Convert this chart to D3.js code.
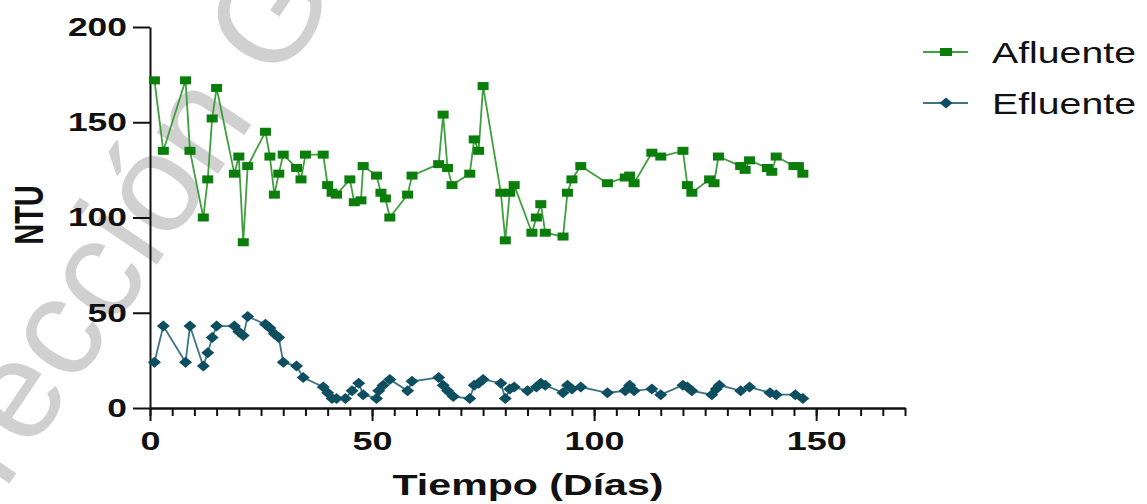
<!DOCTYPE html>
<html>
<head>
<meta charset="utf-8">
<script src="https://cdn.jsdelivr.net/npm/d3@7"></script>
<style>
  html, body { margin: 0; padding: 0; background: #fff; }
  svg { display: block; }
  text { font-family: "Liberation Sans", Arial, sans-serif; }
</style>
</head>
<body>
<svg id="chart" width="1147" height="504"></svg>
<script>
// ---- data ----
const afluenteDays = [1,3,8,9,12,13,14,15,19,20,21,22,26,27,28,29,30,33,34,35,39,40,41,42,45,46,47.5,48,51,52,53,54,58,59,65,66,67,68,72,73,74,75,79,80,81,82,86,87,88,89,93,94,95,97,103,107,108,109,113,115,120,121,122,126,127,128,133,134,135,139,140,141,145,146,147];
const afluenteNTU = [172,135,172,135,100,120,152,168,123,132,87,127,145,132,112,123,133,126,120,133,133,117,113,112,120,108,109,127,122,113,110,100,112,122,128,154,126,117,123,141,135,169,113,88,113,117,92,100,107,92,90,113,120,127,118,121,122,118,134,132,135,117,113,120,118,132,127,125,130,126,124,132,127,127,123];
const efluenteDays = [1,3,8,9,12,13,14,15,19,20,21,22,26,27,28,29,30,33,34.5,39,40,41,42,44,45.5,47,48,51,51.5,52.5,54,58,59,65,66,67,68.3,72,73,74,75,79,80,81,82,85,87,88,89,93,94,95,97,103,107,108,109,113,115,120,121,122,126.5,127.5,128.2,133,135,139.6,141,145.3,147];
const efluenteNTU = [24,43,24,43,22,29,37,43,43,40,38,48,44,42,39,37,24,22,16,11,8,5,5,5,9,13,7,5,9,12,15,9,14,16,12,9,6,5,12,13,15,13,5,10,11,9,11,13,12,8,12,10,11,8,9,12,9,10,7,12,11,9,7,10,12,9,11,8,7,7,5];
const xTicks = [0,50,100,150];
const yTicks = [0,50,100,150,200];
const seriesNames = ["Afluente","Efluente"];
const xTitle = "Tiempo (Días)";
const yTitle = "NTU";
const watermark = "Dirección General";

// ---- layout ----
const svg = d3.select("#chart");
const SX = 1.37; // horizontal stretch of the original picture
const x = d3.scaleLinear().domain([0,170]).range([150,905]);
const y = d3.scaleLinear().domain([0,200]).range([408,27]);

const colA = "#0a7d0a", colALine = "#3f9f3f";
const colE = "#0d4e60", colELine = "#3d7585";

// watermark (behind)
svg.append("text")
  .attr("transform", "translate(-70,601) rotate(-56)")
  .attr("font-size", 140)
  .attr("fill", "#c8c8c8")
  .attr("fill-opacity", 0.85)
  .text(watermark);

// axes
const xMinor = d3.range(0, 171, 5);
svg.append("g").attr("transform", `translate(0,${y(0)})`)
  .call(d3.axisBottom(x).tickValues(xMinor).tickSize(8).tickSizeOuter(0).tickFormat(""))
  .call(g => g.selectAll("path,line").attr("stroke", "#111").attr("stroke-width", 2));
const gx = svg.append("g").attr("transform", `translate(0,${y(0)})`)
  .call(d3.axisBottom(x).tickValues(xTicks).tickSize(13).tickSizeOuter(0).tickPadding(11))
  .call(g => g.selectAll("path,line").attr("stroke", "#111").attr("stroke-width", 2));
gx.selectAll("text")
  .attr("font-family", "Liberation Sans, Arial, sans-serif")
  .attr("font-size", 26).attr("font-weight", "bold").attr("fill", "#111")
  .attr("textLength", d => String(d).length * 20)
  .attr("lengthAdjust", "spacingAndGlyphs");

const gy = svg.append("g").attr("transform", `translate(${x(0)},0)`)
  .call(d3.axisLeft(y).tickValues(yTicks).tickSize(17).tickSizeOuter(0).tickPadding(6))
  .call(g => g.selectAll("path,line").attr("stroke", "#111").attr("stroke-width", 2));
gy.selectAll("text")
  .attr("font-family", "Liberation Sans, Arial, sans-serif")
  .attr("font-size", 26).attr("font-weight", "bold").attr("fill", "#111")
  .attr("textLength", d => String(d).length * 19.7)
  .attr("lengthAdjust", "spacingAndGlyphs");

// axis titles
svg.append("text")
  .attr("x", 528).attr("y", 495)
  .attr("text-anchor", "middle")
  .attr("font-size", 30).attr("font-weight", "bold").attr("fill", "#111")
  .attr("textLength", 271).attr("lengthAdjust", "spacingAndGlyphs")
  .text(xTitle);
svg.append("text")
  .attr("transform", `translate(43,215) scale(${SX},1) rotate(-90)`)
  .attr("text-anchor", "middle")
  .attr("font-size", 29).attr("font-weight", "bold").attr("fill", "#111")
  .text(yTitle);

// series
const A = afluenteDays.map((d,i) => [d, afluenteNTU[i]]);
const E = efluenteDays.map((d,i) => [d, efluenteNTU[i]]);
const line = d3.line().x(d => x(d[0])).y(d => y(d[1]));

svg.append("path").datum(A).attr("d", line)
  .attr("fill", "none").attr("stroke", colALine).attr("stroke-width", 1.8);
svg.append("path").datum(E).attr("d", line)
  .attr("fill", "none").attr("stroke", colELine).attr("stroke-width", 1.8);

const sqW = 11, sqH = 8;
svg.append("g").selectAll("rect").data(A).join("rect")
  .attr("x", d => x(d[0]) - sqW/2).attr("y", d => y(d[1]) - sqH/2)
  .attr("width", sqW).attr("height", sqH).attr("fill", colA);

const dW = 13, dH = 11;
const diamond = `M0,${-dH/2}L${dW/2},0L0,${dH/2}L${-dW/2},0Z`;
svg.append("g").selectAll("path").data(E).join("path")
  .attr("transform", d => `translate(${x(d[0])},${y(d[1])})`)
  .attr("d", diamond).attr("fill", colE);

// legend
const legend = svg.append("g");
const legY = [52, 103];
const legCols = [[colALine, colA], [colELine, colE]];
seriesNames.forEach((name, i) => {
  const g = legend.append("g").attr("transform", `translate(0,${legY[i]})`);
  g.append("line").attr("x1", 923).attr("x2", 968).attr("y1", 0).attr("y2", 0)
    .attr("stroke", legCols[i][0]).attr("stroke-width", 2);
  if (i === 0) {
    g.append("rect").attr("x", 940).attr("y", -4).attr("width", 12).attr("height", 8).attr("fill", legCols[i][1]);
  } else {
    g.append("path").attr("transform", "translate(946,0)").attr("d", diamond).attr("fill", legCols[i][1]);
  }
  g.append("text").attr("x", 992).attr("y", 11)
    .attr("font-size", 30).attr("fill", "#111")
    .attr("textLength", 144).attr("lengthAdjust", "spacingAndGlyphs")
    .text(name);
});
</script>
</body>
</html>
